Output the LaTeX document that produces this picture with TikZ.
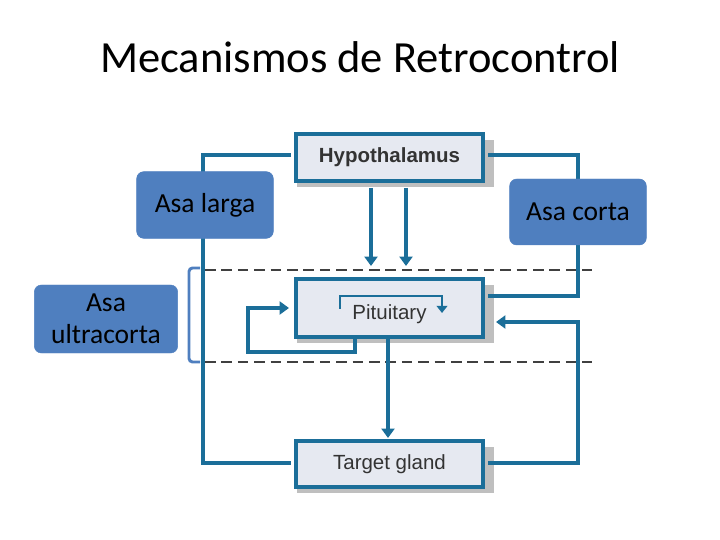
\documentclass[tikz,border=0pt]{standalone}
\usepackage{fontspec}
\setmainfont{Carlito}
\newfontfamily\arialfont{Liberation Sans}
\usetikzlibrary{arrows.meta}
\definecolor{lineblue}{HTML}{1B6E99}
\definecolor{boxfill}{HTML}{E6E9F1}
\definecolor{asablue}{HTML}{4F7FBF}
\tikzset{
  gland/.style={draw=lineblue, line width=3.4pt, fill=boxfill, minimum width=5.6cm, inner sep=0pt,
    font=\arialfont\fontsize{17.5}{20}\selectfont, text=black!80},
  path/.style={draw=lineblue, line width=3.4pt},
  arr/.style={path, -{Triangle[width=11pt,length=8pt]}},
  asa/.style={draw=asablue, fill=asablue, rounded corners=6pt, text=black, align=center,
    font=\fontsize{23.5}{27}\selectfont, minimum width=4.1cm},
  divider/.style={draw=black!75, line width=1.3pt, dash pattern=on 9pt off 5pt}
}
\begin{document}
\begin{tikzpicture}[x=0.03cm, y=-0.03cm]
\useasboundingbox (0,0) rectangle (720,540);
\node[font=\fontsize{38}{42}\selectfont] (title) at (360,57) {Mecanismos de Retrocontrol};
% dividers and bracket
\draw[divider] (205,270) -- (592,270);
\draw[divider] (205,362) -- (592,362);
\draw[asablue, line width=2.5pt, rounded corners=3pt] (200,268) -- (189,268) -- (189,362) -- (200,362);
% shadows
\fill[black!25] (297,140) rectangle (494,187);
\fill[black!25] (297,285) rectangle (494,343);
\fill[black!25] (297,447) rectangle (494,493);
% feedback loops
\coordinate (lt) at (203,155); \coordinate (lb) at (203,463);
\coordinate (rt) at (578,155); \coordinate (rm) at (578,296);
\coordinate (rb) at (578,463); \coordinate (rp) at (578,322);
\draw[path] (291,155) -- (lt) -- (lb) -- (291,463);
\draw[path] (488,155) -- (rt) -- (rm) -- (488,296);
\draw[arr] (488,463) -- (rb) -- (rp) -- (496,322);
\draw[arr] (355,338) -- (355,352) -- (248,352) -- (248,308) -- (289,308);
\draw[arr] (371,188) -- (371,266);
\draw[arr] (406,188) -- (406,266);
\draw[arr] (388,338) -- (388,438);
% glands
\node[gland, minimum height=1.41cm, font=\arialfont\bfseries\fontsize{17.5}{20}\selectfont] (hypo) at (389.5,157.5) {Hypothalamus};
\node[gland, minimum height=1.74cm] (pit) at (389.5,308) {};
\node[gland, minimum height=1.38cm] (target) at (389.5,464) {Target gland};
\node[font=\arialfont\fontsize{17.5}{20}\selectfont, text=black!80] (pitlabel) at (389.5,314) {Pituitary};
\draw[arr, -{Triangle[width=9pt,length=6pt]}, line width=2.5pt] (340,309) -- (340,296) -- (442,296) -- (442,313);
% loop labels
\node[asa, minimum height=2.0cm] (larga) at (205,205) {Asa larga};
\node[asa, minimum height=1.98cm] (corta) at (578,212) {Asa corta};
\node[asa, minimum height=2.04cm, minimum width=4.3cm] (ultra) at (106,319) {Asa\\ultracorta};
\end{tikzpicture}
\end{document}
